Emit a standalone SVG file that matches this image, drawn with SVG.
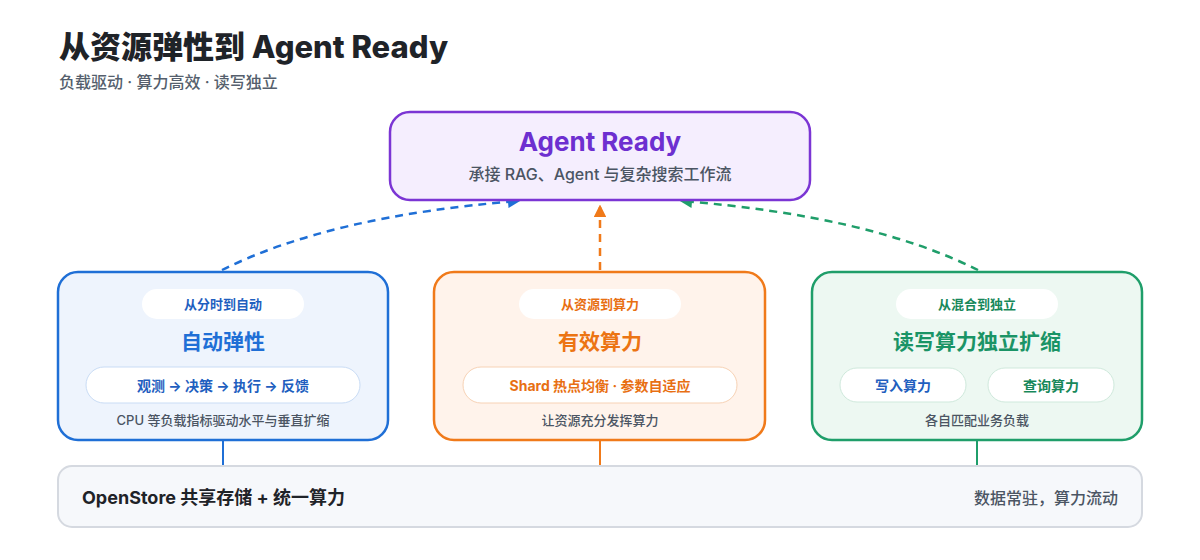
<svg xmlns="http://www.w3.org/2000/svg" width="1200" height="560" viewBox="0 0 1200 560">
<defs>
<style>
text{font-family:Inter,"Noto Sans CJK SC","Noto Sans",sans-serif;}
.title{font-size:31px;font-weight:800;fill:#1f2328;}
.sub{font-size:16px;font-weight:500;fill:#555f6d;}
.gray{font-size:13px;font-weight:500;fill:#4b5563;text-anchor:middle;}
.pill{fill:#ffffff;}
.c{text-anchor:middle;}
.b{font-weight:700;}
</style>
<marker id="ab" viewBox="0 0 10 10" refX="8" refY="5" markerWidth="5" markerHeight="5" orient="auto"><path d="M0,0 L10,5 L0,10 z" fill="#1f6fd6"/></marker>
<marker id="ao" viewBox="0 0 10 10" refX="8" refY="5" markerWidth="5" markerHeight="5" orient="auto"><path d="M0,0 L10,5 L0,10 z" fill="#f07a1a"/></marker>
<marker id="ag" viewBox="0 0 10 10" refX="8" refY="5" markerWidth="5" markerHeight="5" orient="auto"><path d="M0,0 L10,5 L0,10 z" fill="#1f9e6a"/></marker>
</defs>
<rect width="1200" height="560" fill="#ffffff"/>
<text class="title" x="59" y="58">从资源弹性到 Agent Ready</text>
<text class="sub" x="59" y="88">负载驱动 · 算力高效 · 读写独立</text>

<g id="connectors" fill="none" stroke-width="2.5" stroke-dasharray="8 6">
<path d="M222,270 Q330,216 518,201" stroke="#1f6fd6" marker-end="url(#ab)"/>
<path d="M600,270 L600,207" stroke="#f07a1a" marker-end="url(#ao)"/>
<path d="M978,270 Q870,216 682,201" stroke="#1f9e6a" marker-end="url(#ag)"/>
<g stroke-dasharray="none" stroke-width="2">
<line x1="223" y1="440" x2="223" y2="466" stroke="#1f6fd6"/>
<line x1="600" y1="440" x2="600" y2="466" stroke="#f07a1a"/>
<line x1="977" y1="440" x2="977" y2="466" stroke="#1f9e6a"/>
</g>
</g>

<g id="agent">
<rect x="390" y="112" width="420" height="88" rx="20" fill="#f5eefe" stroke="#7b35d4" stroke-width="2.5"/>
<text class="c b" x="600" y="151" font-size="26" fill="#6d2fd0">Agent Ready</text>
<text class="c" x="600" y="180" font-size="16" font-weight="500" fill="#4b5563">承接 RAG、Agent 与复杂搜索工作流</text>
</g>

<g id="elastic">
<rect x="58" y="272" width="330" height="168" rx="20" fill="#eef4fd" stroke="#1f6fd6" stroke-width="2.5"/>
<rect class="pill" x="142" y="289" width="162" height="30" rx="15"/>
<text class="c b" x="223" y="309" font-size="13" fill="#1f5fbf">从分时到自动</text>
<text class="c b" x="223" y="349" font-size="21" fill="#1f6fd6">自动弹性</text>
<rect x="86" y="367" width="274" height="36" rx="18" fill="#ffffff" stroke="#c9dcf5" stroke-width="1"/>
<text class="c b" x="223" y="391" font-size="14" fill="#1f5fbf">观测 → 决策 → 执行 → 反馈</text>
<text class="gray" x="223" y="425">CPU 等负载指标驱动水平与垂直扩缩</text>
</g>

<g id="compute">
<rect x="434" y="272" width="331" height="168" rx="20" fill="#fff3eb" stroke="#f07a1a" stroke-width="2.5"/>
<rect class="pill" x="519" y="289" width="162" height="30" rx="15"/>
<text class="c b" x="600" y="309" font-size="13" fill="#e86f12">从资源到算力</text>
<text class="c b" x="600" y="349" font-size="21" fill="#ec7413">有效算力</text>
<rect x="463" y="367" width="274" height="36" rx="18" fill="#ffffff" stroke="#f7d2b5" stroke-width="1"/>
<text class="c b" x="600" y="391" font-size="14" fill="#e86f12">Shard 热点均衡 · 参数自适应</text>
<text class="gray" x="600" y="425">让资源充分发挥算力</text>
</g>

<g id="rw">
<rect x="812" y="272" width="330" height="168" rx="20" fill="#edf8f2" stroke="#1f9e6a" stroke-width="2.5"/>
<rect class="pill" x="896" y="289" width="162" height="30" rx="15"/>
<text class="c b" x="977" y="309" font-size="13" fill="#17885a">从混合到独立</text>
<text class="c b" x="977" y="349" font-size="21" fill="#1a9466">读写算力独立扩缩</text>
<rect x="840" y="368" width="126" height="34" rx="17" fill="#ffffff" stroke="#cfe9dc" stroke-width="1"/>
<text class="c b" x="903" y="391" font-size="14" fill="#1f5fbf">写入算力</text>
<rect x="988" y="368" width="126" height="34" rx="17" fill="#ffffff" stroke="#cfe9dc" stroke-width="1"/>
<text class="c b" x="1051" y="391" font-size="14" fill="#17885a">查询算力</text>
<text class="gray" x="977" y="425">各自匹配业务负载</text>
</g>

<g id="openstore">
<rect x="58" y="466" width="1084" height="61" rx="14" fill="#f6f8fb" stroke="#d5d9e0" stroke-width="2"/>
<text x="82" y="504" font-size="18" font-weight="700" fill="#1f2328">OpenStore 共享存储 + 统一算力</text>
<text x="1118" y="504" font-size="16" font-weight="500" fill="#4b5563" text-anchor="end">数据常驻，算力流动</text>
</g>
</svg>
